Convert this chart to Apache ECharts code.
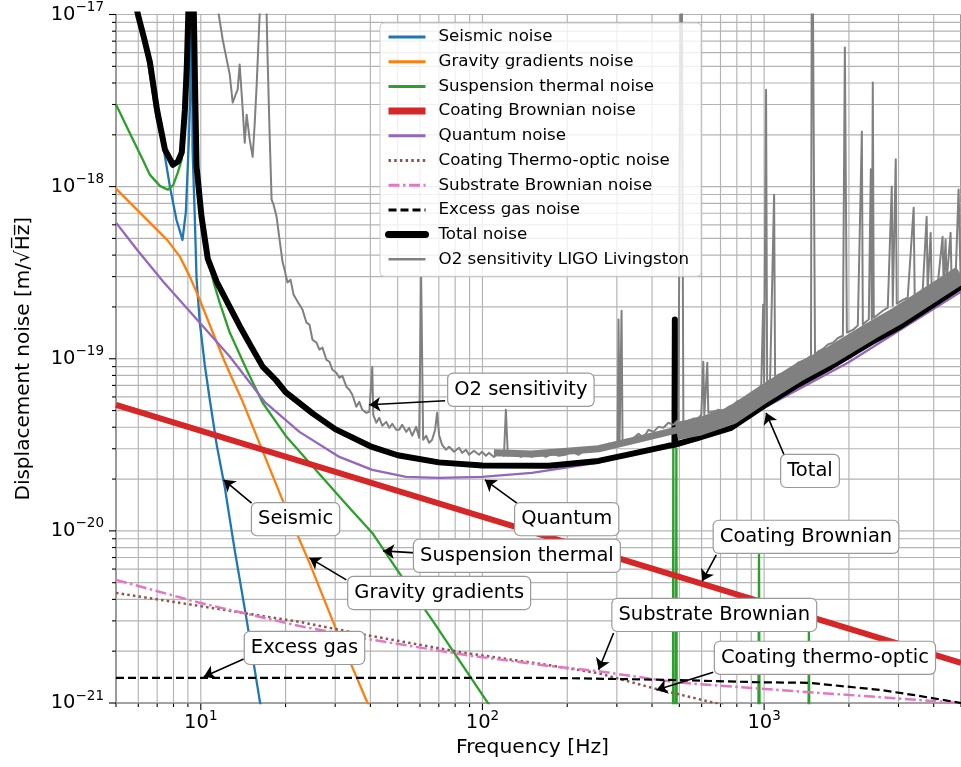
<!DOCTYPE html>
<html><head><meta charset="utf-8">
<script src="https://cdn.jsdelivr.net/npm/echarts@6.0.0/dist/echarts.min.js"></script>
<style>html,body{margin:0;padding:0;background:#fff}#c{width:961px;height:767px}#err{position:absolute;left:0;top:0;color:red;font:12px monospace}</style>
</head><body><div id="c"></div><div id="err"></div>
<script>
window.onerror = function (m, s, l, c, e) { document.getElementById('err').textContent += m + ' @' + l + ':' + c + ' '; };
// ---------- data (frequency [Hz], displacement noise [m/sqrt(Hz)]) ----------
const seismicNoise = [[5.0,4.2e-17],[5.98,9.9e-18],[6.44,5.8e-18],[6.97,2.5e-18],[7.36,1.71e-18],[7.77,1.0e-18],[8.20,6.4e-19],[8.61,4.9e-19],[8.85,7.1e-19],[8.99,1.31e-18],[9.09,2.06e-18],[9.17,3.3e-18],[9.26,1e-15],[9.35,1.64e-18],[9.52,6.7e-19],[9.66,2.9e-19],[9.92,1.62e-19],[10.33,9.2e-20],[10.76,5.8e-20],[11.39,3.16e-20],[12.16,1.8e-20],[13.19,7.75e-21],[14.55,3.04e-21],[16.18,1.04e-21],[16.85,7.0e-22]];
const gravityGradients = [[5.0,9.73e-19],[6.08,7.06e-19],[7.58,4.92e-19],[8.43,3.92e-19],[9.14,3.0e-19],[9.92,2.2e-19],[11.03,1.42e-19],[12.16,9.6e-20],[12.98,7.55e-20],[14.09,5.62e-20],[19.51,1.51e-20],[24.31,6.52e-21],[30.29,2.66e-21],[38.69,1.04e-21],[40.3,8.9e-22]];
const suspensionThermal = [[5.0,3.0e-18],[5.74,1.88e-18],[6.20,1.45e-18],[6.60,1.17e-18],[7.16,1.01e-18],[7.64,9.6e-19],[7.98,1.02e-18],[8.29,1.21e-18],[8.56,1.44e-18],[8.85,2.8e-18],[9.07,7.2e-18],[9.26,3e-16],[9.45,7.2e-18],[9.60,2.14e-18],[9.84,9.0e-19],[10.16,5.26e-19],[10.59,3.8e-19],[11.13,2.75e-19],[11.67,2.12e-19],[12.67,1.42e-19],[14.55,8.63e-20],[16.58,5.55e-20],[20.15,3.52e-20],[24.31,2.49e-20],[31.82,1.51e-20],[40.63,9.73e-21],[50.63,5.7e-21],[66.26,3.04e-21],[102.9,1.04e-21],[109.8,8.9e-22],[300,1e-22],[474,1e-22],[476,3.4e-20],[478,1e-22],[486,1e-22],[488,3.0e-20],[490,1e-22],[950,1e-22],[959,7.45e-21],[968,1e-22],[1430,1e-22],[1442,2.66e-21],[1455,1e-22],[5000,1e-22]];
const coatingBrownian = [[5,5.4e-20],[50,1.71e-20],[500,5.4e-21],[5000,1.71e-21]];
const quantumNoise = [[5.0,6.18e-19],[5.94,4.30e-19],[7.36,2.80e-19],[9.92,1.62e-19],[12.67,1.03e-19],[16.85,5.62e-20],[22.4,3.76e-20],[31.05,2.69e-20],[40.63,2.26e-20],[53.6,2.06e-20],[70.2,2.03e-20],[99.6,2.06e-20],[149.7,2.17e-20],[258.4,2.49e-20],[338.2,2.77e-20],[421.5,3.08e-20],[584,3.38e-20],[1000,5.19e-20],[1983,9.48e-20],[5000,2.45e-19]];
const coatingThermoOptic = [[5.0,4.36e-21],[9.92,3.66e-21],[22.4,2.96e-21],[38.69,2.48e-21],[87.4,1.95e-21],[172,1.66e-21],[258.4,1.49e-21],[411.4,1.21e-21],[687,9.9e-22],[952,8.5e-22]];
const substrateBrownian = [[5.0,5.19e-21],[9.92,3.82e-21],[22.4,2.80e-21],[38.69,2.36e-21],[87.4,1.90e-21],[172,1.64e-21],[258.4,1.53e-21],[484,1.32e-21],[976,1.21e-21],[2596,1.08e-21],[5000,1.0e-21]];
const excessGas = [[5,1.40e-21],[172,1.40e-21],[484,1.36e-21],[952,1.32e-21],[1442,1.31e-21],[2596,1.19e-21],[3424,1.11e-21],[5000,1.0e-21]];
const totalNoise = [[5.0,4.6e-17],[5.98,1.0e-17],[6.30,7.2e-18],[6.60,5.26e-18],[6.99,2.8e-18],[7.46,1.64e-18],[7.96,1.34e-18],[8.30,1.40e-18],[8.56,1.58e-18],[8.78,2.8e-18],[8.92,5.0e-18],[9.03,1.0e-17],[9.26,1e-15],[9.45,1.0e-17],[9.56,3.21e-18],[9.66,1.31e-18],[10.06,6.69e-19],[10.59,3.8e-19],[11.39,2.8e-19],[12.67,2.0e-19],[13.74,1.55e-19],[15.0,1.2e-19],[16.58,9.0e-20],[18.5,7.5e-20],[20,6.4e-20],[25,4.8e-20],[30,3.9e-20],[40,3.1e-20],[50,2.75e-20],[70,2.5e-20],[100,2.4e-20],[172,2.39e-20],[258,2.55e-20],[338,2.8e-20],[457,3.12e-20],[480.5,3.16e-20],[482,1.69e-19],[483.5,3.17e-20],[584,3.47e-20],[764,3.97e-20],[1000,5.33e-20],[1319,7.06e-20],[1727,8.98e-20],[2392,1.24e-19],[2981,1.51e-19],[5000,2.62e-19]];
const o2Sensitivity = [[10.8,3e-17],[11.58,1.0e-17],[11.96,7.16e-18],[12.36,5.47e-18],[12.67,4.48e-18],[12.98,3.08e-18],[13.30,3.43e-18],[13.52,3.66e-18],[13.74,5.12e-18],[14.09,2.80e-18],[14.32,1.80e-18],[14.55,2.62e-18],[14.91,1.88e-18],[15.28,1.49e-18],[15.53,2.29e-18],[15.78,3.81e-18],[16.04,7.16e-18],[16.18,1.0e-17],[16.6,5e-17],[17.13,1.0e-17],[17.27,5.47e-18],[17.55,2.06e-18],[17.84,8.40e-19],[18.13,7.85e-19],[18.58,6.69e-19],[19.04,4.92e-19],[19.51,3.66e-19],[19.83,3.29e-19],[20.32,2.77e-19],[20.83,2.88e-19],[21.34,2.36e-19],[21.87,2.20e-19],[22.41,2.06e-19],[22.96,1.93e-19],[23.73,1.62e-19],[24.31,1.58e-19],[24.92,1.29e-19],[25.74,1.24e-19],[26.38,1.13e-19],[27.03,1.16e-19],[27.93,9.86e-20],[28.62,9.61e-20],[29.33,8.63e-20],[30.29,8.29e-20],[31.05,7.76e-20],[31.82,7.96e-20],[32.87,6.88e-20],[33.69,6.60e-20],[34.52,6.18e-20],[35.66,5.26e-20],[36.54,5.62e-20],[37.45,5.05e-20],[38.69,4.85e-20],[39.65,4.92e-20],[40.30,4.92e-20],[40.63,8.98e-20],[40.96,4.72e-20],[41.98,4.25e-20],[43.02,4.54e-20],[44.09,4.08e-20],[45.55,4.30e-20],[46.67,3.97e-20],[47.83,4.19e-20],[49.41,3.87e-20],[50.63,3.87e-20],[51.88,4.13e-20],[53.60,3.76e-20],[54.93,3.97e-20],[56.28,3.57e-20],[58.16,4.02e-20],[59.60,3.47e-20],[60.58,3.00e-19],[61.58,3.38e-20],[63.10,3.57e-20],[64.66,3.25e-20],[66.26,3.38e-20],[67.91,3.87e-20],[69.02,4.85e-20],[70.15,3.61e-20],[71.89,3.16e-20],[74.27,2.96e-20],[76.11,3.08e-20],[79.28,2.88e-20],[82.58,3.04e-20],[84.62,2.84e-20],[87.44,2.96e-20],[89.61,2.77e-20],[93.31,2.92e-20],[97.18,2.77e-20],[99.59,2.88e-20],[102.9,2.73e-20],[105.4,2.84e-20],[109.8,2.69e-20],[114.4,2.84e-20],[119.2,2.73e-20],[121.1,5.05e-20],[123.1,2.73e-20],[127.2,2.88e-20],[131.4,2.77e-20],[136.9,2.69e-20],[142.6,2.84e-20],[149.7,2.69e-20],[158.5,2.84e-20],[167.8,2.69e-20],[176.2,2.80e-20],[186.6,2.73e-20],[197.5,2.77e-20],[207.4,2.88e-20],[219.6,2.77e-20],[232.5,2.96e-20],[244.2,2.88e-20],[258.5,3.08e-20],[269.2,3.00e-20],[280.4,3.21e-20],[292.1,3.12e-20],[301.8,3.25e-20],[304.2,1.69e-19],[306.7,3.21e-20],[309.3,3.25e-20],[311.8,1.90e-19],[314.3,3.29e-20],[324.7,3.38e-20],[338.2,3.38e-20],[358.1,3.66e-20],[373.0,3.47e-20],[388.5,3.87e-20],[404.7,3.76e-20],[421.5,4.02e-20],[439.1,3.97e-20],[457.3,4.25e-20],[476.4,4.13e-20],[496.2,4.42e-20],[504.3,4.42e-20],[508.4,1e-16],[512.6,1e-16],[516.8,4.25e-20],[538.3,4.36e-20],[560.7,4.48e-20],[584.0,4.53e-20],[598.4,4.72e-20],[608.3,9.61e-20],[613.3,4.72e-20],[628.4,9.48e-20],[633.6,4.85e-20],[659.9,4.92e-20],[687.4,5.05e-20],[716.0,4.98e-20],[745.7,5.25e-20],[776.8,5.40e-20],[809.1,5.69e-20],[842.8,5.78e-20],[877.8,6.10e-20],[914.4,6.17e-20],[952.4,6.52e-20],[976,6.52e-20],[992,2.06e-19],[1000,7.25e-20],[1016,3.66e-18],[1025,7.35e-20],[1050,7.55e-20],[1085,8.98e-19],[1094,7.55e-20],[1121,8.07e-20],[1168,8.18e-20],[1216,8.51e-20],[1267,8.87e-20],[1319,9.48e-20],[1375,9.73e-20],[1432,1.01e-19],[1467,1.04e-19],[1479,1e-16],[1503,1e-16],[1516,1.05e-19],[1553,1.10e-19],[1618,1.14e-19],[1685,1.21e-19],[1755,1.24e-19],[1828,1.32e-19],[1904,1.36e-19],[1935,6.43e-18],[1967,1.42e-19],[2065,1.47e-19],[2151,1.56e-19],[2223,2.09e-18],[2241,1.58e-19],[2296,1.64e-19],[2353,1.69e-19],[2392,1.26e-18],[2411,1.69e-19],[2431,4.03e-18],[2451,1.73e-19],[2532,1.80e-19],[2638,1.90e-19],[2748,1.98e-19],[2839,1.0e-18],[2862,2.03e-19],[2933,1.44e-18],[2957,2.09e-19],[3105,2.20e-19],[3234,2.26e-19],[3396,7.55e-19],[3424,2.32e-19],[3508,2.36e-19],[3654,2.45e-19],[3776,6.69e-19],[3807,2.52e-19],[3901,5.40e-19],[3933,2.59e-19],[4129,2.66e-19],[4301,5.12e-19],[4336,2.73e-19],[4408,4.92e-19],[4444,2.77e-19],[4592,5.40e-19],[4630,2.84e-19],[4783,2.92e-19],[4902,9.61e-19],[4982,3.0e-19]];
// the dense noisy band of the O2 trace (band centre)
const o2BandLow = [[109.8,2.84e-20],[149.7,2.80e-20],[258.5,3.00e-20],[388.5,3.52e-20],[496.2,3.87e-20]];
const o2BandHigh = [[488.1,3.80e-20],[584.0,4.02e-20],[764,4.66e-20],[1000,6.26e-20],[1319,8.29e-20],[1727,1.05e-19],[2392,1.45e-19],[2981,1.78e-19],[5000,3.08e-19]];

// annotations
const annotationText = ['O2 sensitivity','Total','Seismic','Quantum','Suspension thermal','Gravity gradients','Excess gas','Coating Brownian','Substrate Brownian','Coating thermo-optic'];
const annotationBox = [[136.9,6.60e-20],[1455,2.23e-20],[21.7,1.17e-20],[199.1,1.17e-20],[132.5,7.16e-21],[70.2,4.36e-21],[23.34,2.09e-21],[1408,9.23e-21],[665.3,3.25e-21],[1644,1.83e-21]];
const arrowTail = [[73.7,5.70e-20],[1177,2.77e-20],[15.15,1.45e-20],[132.5,1.45e-20],[57.7,7.45e-21],[32.87,5.19e-21],[14.20,1.80e-21],[676.3,7.25e-21],[292.1,2.55e-21],[659.9,1.51e-21]];
const arrowHead = [[39.65,5.40e-20],[1016,4.85e-20],[12.06,1.98e-20],[102.0,1.98e-20],[44.4,7.65e-21],[24.31,6.97e-21],[10.25,1.42e-21],[603.3,5.12e-21],[258.5,1.56e-21],[414.6,1.19e-21]];

const xRange = [5, 5000];
const yRange = [1e-21, 1e-17];

// ---------- chart ----------
// ECharts rounds tiny numbers to 20 decimals, so the y values are handed to it
// in units of 1e-21 m/sqrt(Hz); the tick labels put the true exponent back.
const UNIT_EXP = -21;
const U = Math.pow(10, -UNIT_EXP);
const sc = arr => arr.map(p => [p[0], p[1] * U]);

const FONT = 'DejaVu Sans';
const chart = echarts.init(document.getElementById('c'), null, {renderer: 'canvas'});

function supX(v) {
  const e = Math.round(Math.log10(v));
  return '{b|10}{s|' + (e < 0 ? '\u2212' + (-e) : String(e)) + '}';
}
function supY(v) {
  const e = Math.round(Math.log10(v)) + UNIT_EXP;
  return '{b|10}{s|' + (e < 0 ? '\u2212' + (-e) : String(e)) + '}';
}
const labelRich = {
  b: {fontFamily: FONT, fontSize: 19.5, color: '#000', lineHeight: 28},
  s: {fontFamily: FONT, fontSize: 13.5, color: '#000', lineHeight: 12, verticalAlign: 'top'}
};

function ls(name, data, color, width, type, extra) {
  return Object.assign({
    name: name, type: 'line', data: sc(data), showSymbol: false, symbol: 'none',
    animation: false, silent: true, clip: true, z: 3,
    lineStyle: {color: color, width: width, type: type || 'solid', cap: 'butt', join: 'round'},
    itemStyle: {color: color}
  }, extra || {});
}

// grid lines + ticks (major and minor, log decades)
const gridData = [];
for (let d = 1; d <= 1000; d *= 10) {
  for (let m = 1; m <= 9; m++) {
    const f = m * d;
    if (f >= xRange[0] && f <= xRange[1]) gridData.push([f, yRange[0] * U, 0, m === 1 ? 1 : 0]);
  }
}
for (let d = 1; d < 10000; d *= 10) {
  for (let m = 1; m <= 9; m++) gridData.push([xRange[0], m * d, 1, m === 1 ? 1 : 0]);
}
gridData.push([xRange[0], yRange[1] * U, 1, 1]);

const names = ['Seismic noise','Gravity gradients noise','Suspension thermal noise','Coating Brownian noise','Quantum noise','Coating Thermo-optic noise','Substrate Brownian noise','Excess gas noise','Total noise','O2 sensitivity LIGO Livingston'];
const legendWidths = [3, 3, 3, 7, 3, 3, 3, 3, 7, 2.5];

const GRAY = '#808080';
const option = {
  animation: false,
  backgroundColor: '#fff',
  grid: {left: 116, top: 14.5, width: 847, height: 688.5, show: true, borderColor: '#222', borderWidth: 1.2, backgroundColor: 'transparent', containLabel: false},
  xAxis: {
    type: 'log', logBase: 10, min: xRange[0], max: xRange[1],
    axisLine: {show: false}, axisTick: {show: false}, splitLine: {show: false}, minorTick: {show: false}, minorSplitLine: {show: false},
    axisLabel: {formatter: supX, rich: labelRich, showMinLabel: false, showMaxLabel: false, margin: 6},
    name: 'Frequency [Hz]', nameLocation: 'middle', nameGap: 32,
    nameTextStyle: {fontFamily: FONT, fontSize: 20.3, color: '#000', padding: [0, 12, 0, 0]}
  },
  yAxis: {
    type: 'log', logBase: 10, min: yRange[0] * U, max: yRange[1] * U,
    axisLine: {show: false}, axisTick: {show: false}, splitLine: {show: false}, minorTick: {show: false}, minorSplitLine: {show: false},
    axisLabel: {formatter: supY, rich: labelRich, margin: 12},
    name: 'Displacement noise [m/\u221AH\u0305z\u0305]', nameLocation: 'middle', nameGap: 82,
    nameTextStyle: {fontFamily: FONT, fontSize: 20, color: '#000'}
  },
  legend: {
    orient: 'vertical', left: 380, top: 23, itemWidth: 37, itemHeight: 14, itemGap: 4.7,
    padding: [4, 12, 7, 5], backgroundColor: 'rgba(255,255,255,0.8)', borderColor: '#cccccc', borderWidth: 1, borderRadius: 4,
    selectedMode: false,
    itemStyle: {opacity: 0, borderWidth: 0},
    textStyle: {fontFamily: FONT, fontSize: 16.7, color: '#000', lineHeight: 20, padding: [0, 0, 0, 8]},
    data: names.map((n, i) => ({name: n, itemStyle: {opacity: 0, borderWidth: 0}, lineStyle: {width: legendWidths[i], opacity: 1}}))
  },
  series: [
    {
      type: 'custom', name: 'grid', silent: true, z: 1, clip: false, animation: false,
      data: gridData, encode: {x: 0, y: 1},
      renderItem: function (params, api) {
        const cs = params.coordSys;
        const p = api.coord([api.value(0), api.value(1)]);
        const len = api.value(3) === 1 ? 7 : 4;
        const gs = {stroke: '#b3b3b3', lineWidth: 1.15};
        const ts = {stroke: '#000', lineWidth: 1.1};
        if (api.value(2) === 0) {
          const x = p[0];
          return {type: 'group', children: [
            {type: 'line', shape: {x1: x, y1: cs.y, x2: x, y2: cs.y + cs.height}, style: gs},
            {type: 'line', shape: {x1: x, y1: cs.y + cs.height, x2: x, y2: cs.y + cs.height + len}, style: ts}
          ]};
        }
        const y = p[1];
        return {type: 'group', children: [
          {type: 'line', shape: {x1: cs.x, y1: y, x2: cs.x + cs.width, y2: y}, style: gs},
          {type: 'line', shape: {x1: cs.x - len, y1: y, x2: cs.x, y2: y}, style: ts}
        ]};
      }
    },
    ls(names[0], seismicNoise, '#1f77b4', 2.3),
    ls(names[1], gravityGradients, '#ff7f0e', 2.3),
    ls(names[2], suspensionThermal, '#2ca02c', 2.3),
    ls(names[3], coatingBrownian, '#d62728', 6),
    ls(names[4], quantumNoise, '#9467bd', 2.3),
    ls(names[5], coatingThermoOptic, '#8c564b', 2.5, [2.5, 3.2]),
    ls(names[6], substrateBrownian, '#e377c2', 2.5, [11, 3.5, 2.5, 3.5]),
    ls(names[7], excessGas, '#000000', 2.2, [8, 4]),
    ls(names[8], totalNoise, '#000000', 6, 'solid', {lineStyle: {color: '#000', width: 6, cap: 'round', join: 'round'}}),
    ls(names[9], o2Sensitivity, GRAY, 2),
    ls('band-low', o2BandLow, GRAY, 7),
    ls('band-high', o2BandHigh, GRAY, 18),
    {
      type: 'line', name: 'annotations', data: [], silent: true, z: 10, animation: false,
      markLine: {
        silent: true, animation: false, symbol: ['none', 'arrow'], symbolSize: 11,
        lineStyle: {color: '#000', width: 1.6, type: 'solid'}, label: {show: false},
        emphasis: {disabled: true},
        data: arrowTail.map((t, i) => [{coord: [t[0], t[1] * U]}, {coord: [arrowHead[i][0], arrowHead[i][1] * U]}])
      },
      markPoint: {
        silent: true, animation: false, symbol: 'circle', symbolSize: 1,
        itemStyle: {color: 'rgba(0,0,0,0)'},
        label: {
          show: true, position: 'inside', formatter: '{b}', color: '#000',
          fontFamily: FONT, fontSize: 19.5, lineHeight: 24,
          backgroundColor: '#fff', borderColor: '#999', borderWidth: 1.2, borderRadius: 5, padding: [4, 6, 4, 6]
        },
        data: annotationBox.map((c, i) => ({coord: [c[0], c[1] * U], name: annotationText[i]}))
      }
    }
  ]
};
chart.setOption(option);
</script>
</body></html>
